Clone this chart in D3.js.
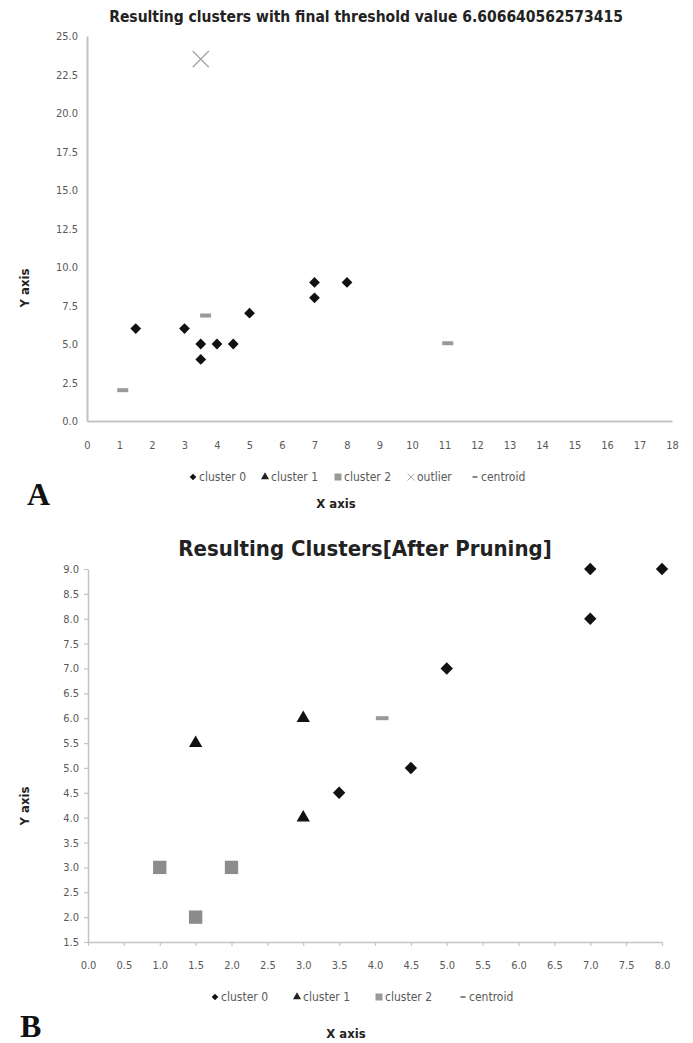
<!DOCTYPE html>
<html>
<head>
<meta charset="utf-8">
<script src="https://cdn.jsdelivr.net/npm/d3@7"></script>
<style>
  body { margin: 0; background: #fff; }
  svg { display: block; }
  .tick text { fill: #595959; }
</style>
</head>
<body>
<svg id="chart" width="693" height="1043"></svg>
<script>
// ---- chart A data ----
var titleA = "Resulting clusters with final threshold value 6.606640562573415";
var xTicksA = [0,1,2,3,4,5,6,7,8,9,10,11,12,13,14,15,16,17,18];
var yTicksA = [0,2.5,5,7.5,10,12.5,15,17.5,20,22.5,25];
var cluster0A = [[1.5,6],[3,6],[3.5,5],[3.5,4],[4,5],[4.5,5],[5,7],[7,9],[7,8],[8,9]];
var centroidA = [[1.1,2],[3.65,6.85],[11.1,5.05]];
var outlierA = [[3.5,23.5]];
var legendA = ["cluster 0","cluster 1","cluster 2","outlier","centroid"];

// ---- chart B data ----
var titleB = "Resulting Clusters[After Pruning]";
var xTicksB = [0,0.5,1,1.5,2,2.5,3,3.5,4,4.5,5,5.5,6,6.5,7,7.5,8];
var yTicksB = [1.5,2,2.5,3,3.5,4,4.5,5,5.5,6,6.5,7,7.5,8,8.5,9];
var cluster0B = [[7,9],[8,9],[7,8],[5,7],[4.5,5],[3.5,4.5]];
var cluster1B = [[1.5,5.5],[3,6],[3,4]];
var cluster2B = [[1,3],[1.5,2],[2,3]];
var centroidB = [[4.1,6]];
var legendB = ["cluster 0","cluster 1","cluster 2","centroid"];

var font = "'Liberation Sans Narrow', 'DejaVu Sans Condensed', 'Liberation Sans', sans-serif";
var svg = d3.select("#chart");

// marker painters, keyed by legend name
function drawMarker(g, name, big){
    var s = big ? 1.15 : 1;
    if (name == "cluster 0") {
        g.append("path").attr("d", d3.symbol(d3.symbolSquare, 58*s*s)()).attr("transform", "rotate(45)").attr("fill", "#111");
    } else if (name == "cluster 1") {
        g.append("path").attr("d", d3.symbol(d3.symbolTriangle, 58*s*s)()).attr("fill", "#111");
    } else if (name == "cluster 2") {
        g.append("rect").attr("x", -5.8*s).attr("y", -5.8*s).attr("width", 11.6*s).attr("height", 11.6*s).attr("fill", "#8c8c8c");
    } else if (name == "outlier") {
        var r = 7*s;
        g.append("path").attr("d", `M${-r},${-r}L${r},${r}M${-r},${r}L${r},${-r}`)
            .attr("stroke", "#a6a6a6").attr("stroke-width", 1.4).attr("fill", "none");
    } else if (name == "centroid") {
        g.append("rect").attr("x", -5.5*s).attr("y", -2).attr("width", 11*s).attr("height", 4).attr("fill", "#999");
    }
}

function legendMarker(g, name){
    if (name == "cluster 0") {
        g.append("path").attr("d", d3.symbol(d3.symbolSquare, 22)()).attr("transform", "rotate(45)").attr("fill", "#111");
    } else if (name == "cluster 1") {
        g.append("path").attr("d", d3.symbol(d3.symbolTriangle, 28)()).attr("fill", "#222");
    } else if (name == "cluster 2") {
        g.append("rect").attr("x", -3.5).attr("y", -3.5).attr("width", 7).attr("height", 7).attr("fill", "#999");
    } else if (name == "outlier") {
        g.append("path").attr("d", "M-3.5,-3.5L3.5,3.5M-3.5,3.5L3.5,-3.5")
            .attr("stroke", "#aaa").attr("stroke-width", 1).attr("fill", "none");
    } else if (name == "centroid") {
        g.append("rect").attr("x", -2.5).attr("y", -1).attr("width", 5).attr("height", 2).attr("fill", "#888");
    }
}

function legend(list, xs, y){
    var g = svg.append("g");
    list.forEach(function(name, i){
        var item = g.append("g").attr("transform", `translate(${xs[i]},${y})`);
        legendMarker(item, name);
        item.append("text")
            .attr("x", 6)
            .attr("y", 4)
            .attr("font-family", font)
            .attr("font-size", "12px")
            .attr("fill", "#595959")
            .text(name);
    });
}

function chartA(){
    var x = d3.scaleLinear().domain([0, 18]).range([87, 672]);
    var y = d3.scaleLinear().domain([0, 25]).range([421, 36]);

    svg.append("text")
        .attr("x", 366).attr("y", 22)
        .attr("text-anchor", "middle")
        .attr("font-family", font).attr("font-weight", "bold").attr("font-size", "15.5px")
        .attr("fill", "#222")
        .text(titleA);

    var xa = svg.append("g")
        .attr("transform", "translate(0,421)")
        .call(d3.axisBottom(x).tickValues(xTicksA).tickSize(0).tickPadding(20).tickFormat(d3.format("d")));
    var ya = svg.append("g")
        .attr("transform", "translate(87,0)")
        .call(d3.axisLeft(y).tickValues(yTicksA).tickSize(0).tickPadding(9).tickFormat(d3.format(".1f")));
    [xa, ya].forEach(function(a){
        a.selectAll(".domain").attr("stroke", "#c4c4c4").attr("stroke-width", 2);
        a.selectAll("text").attr("font-family", font).attr("font-size", "11px");
    });

    cluster0A.forEach(function(d){ drawMarker(svg.append("g").attr("transform", `translate(${x(d[0])},${y(d[1])})`), "cluster 0", false); });
    centroidA.forEach(function(d){ drawMarker(svg.append("g").attr("transform", `translate(${x(d[0])},${y(d[1])})`), "centroid", false); });
    outlierA.forEach(function(d){ drawMarker(svg.append("g").attr("transform", `translate(${x(d[0])},${y(d[1])})`), "outlier", true); });

    legend(legendA, [193, 265, 338, 411, 475], 477);

    svg.append("text")
        .attr("x", 336).attr("y", 508)
        .attr("text-anchor", "middle")
        .attr("font-family", font).attr("font-weight", "bold").attr("font-size", "13px")
        .attr("fill", "#222")
        .text("X axis");
    svg.append("text")
        .attr("transform", "translate(29,288) rotate(-90)")
        .attr("text-anchor", "middle")
        .attr("font-family", font).attr("font-weight", "bold").attr("font-size", "13px")
        .attr("fill", "#222")
        .text("Y axis");
    svg.append("text")
        .attr("x", 27).attr("y", 505)
        .attr("font-family", "'Liberation Serif', 'DejaVu Serif', serif").attr("font-weight", "bold").attr("font-size", "32px")
        .attr("fill", "#111")
        .text("A");
}

function chartB(){
    var x = d3.scaleLinear().domain([0, 8]).range([88, 662]);
    var y = d3.scaleLinear().domain([1.5, 9]).range([942, 569]);

    svg.append("text")
        .attr("x", 365).attr("y", 556)
        .attr("text-anchor", "middle")
        .attr("font-family", font).attr("font-weight", "bold").attr("font-size", "22px")
        .attr("fill", "#222")
        .text(titleB);

    var xa = svg.append("g")
        .attr("transform", "translate(0,942)")
        .call(d3.axisBottom(x).tickValues(xTicksB).tickSizeInner(4).tickSizeOuter(0).tickPadding(15).tickFormat(d3.format(".1f")));
    var ya = svg.append("g")
        .attr("transform", "translate(88,0)")
        .call(d3.axisLeft(y).tickValues(yTicksB).tickSizeInner(4).tickSizeOuter(0).tickPadding(5).tickFormat(d3.format(".1f")));
    [xa, ya].forEach(function(a){
        a.selectAll(".domain").attr("stroke", "#c4c4c4").attr("stroke-width", 1.5);
        a.selectAll(".tick line").attr("stroke", "#c4c4c4").attr("stroke-width", 1.2);
        a.selectAll("text").attr("font-family", font).attr("font-size", "11px");
    });

    cluster0B.forEach(function(d){ drawMarker(svg.append("g").attr("transform", `translate(${x(d[0])},${y(d[1])})`), "cluster 0", true); });
    cluster1B.forEach(function(d){ drawMarker(svg.append("g").attr("transform", `translate(${x(d[0])},${y(d[1])})`), "cluster 1", true); });
    cluster2B.forEach(function(d){ drawMarker(svg.append("g").attr("transform", `translate(${x(d[0])},${y(d[1])})`), "cluster 2", true); });
    centroidB.forEach(function(d){ drawMarker(svg.append("g").attr("transform", `translate(${x(d[0])},${y(d[1])})`), "centroid", true); });

    legend(legendB, [215, 297, 379, 463], 997);

    svg.append("text")
        .attr("x", 346).attr("y", 1038)
        .attr("text-anchor", "middle")
        .attr("font-family", font).attr("font-weight", "bold").attr("font-size", "13px")
        .attr("fill", "#222")
        .text("X axis");
    svg.append("text")
        .attr("transform", "translate(29,806) rotate(-90)")
        .attr("text-anchor", "middle")
        .attr("font-family", font).attr("font-weight", "bold").attr("font-size", "13px")
        .attr("fill", "#222")
        .text("Y axis");
    svg.append("text")
        .attr("x", 20).attr("y", 1037)
        .attr("font-family", "'Liberation Serif', 'DejaVu Serif', serif").attr("font-weight", "bold").attr("font-size", "32px")
        .attr("fill", "#111")
        .text("B");
}

chartA();
chartB();
</script>
</body>
</html>
